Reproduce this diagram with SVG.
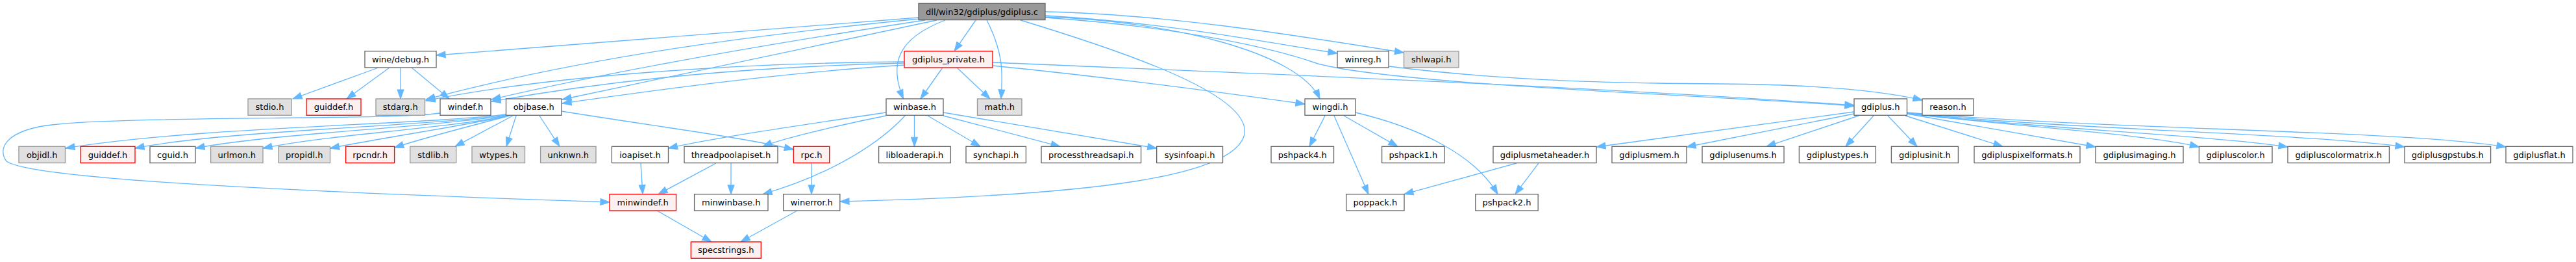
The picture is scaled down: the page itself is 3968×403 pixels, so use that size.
<svg xmlns="http://www.w3.org/2000/svg" width="3968" height="403" viewBox="0 0 3968 403">
<style>
.n rect{stroke-width:1.33}
.w rect{fill:#ffffff;stroke:#666666}
.g rect{fill:#e0e0e0;stroke:#999999}
.r rect{fill:#fff0f0;stroke:#ff0000}
.root rect{fill:#999999;stroke:#666666}
.n text{font-family:"DejaVu Sans","Liberation Sans",sans-serif;font-size:13px;text-anchor:middle;fill:#000000}
#edges path{fill:none;stroke:#63b8ff;stroke-width:1.33;marker-end:url(#a)}
</style>
<defs>
<marker id="a" markerUnits="userSpaceOnUse" markerWidth="14" markerHeight="10" viewBox="0 0 13.3 9.4" refX="13.3" refY="4.7" orient="auto" style="overflow:visible">
<path d="M0,0 L13.3,4.7 L0,9.4 z" fill="#63b8ff" stroke="#63b8ff" stroke-width="1"/>
</marker>
</defs>
<rect x="0" y="0" width="3968" height="403" fill="#ffffff"/>
<g id="edges">
<path d="M1415,27 L672,85"/>
<path d="M1416,29 C1150,55 900,88 656,153"/>
<path d="M1425,31 C1200,65 950,108 757,153"/>
<path d="M1443,31 C1250,72 1000,125 866,153"/>
<path d="M1393,95 C1150,97 850,115 656,155"/>
<path d="M1393,97 C1150,103 950,122 757,156"/>
<path d="M1393,100 C1200,112 1000,140 866,159"/>
<path d="M583,104 L451,152"/>
<path d="M600,104 L534,152"/>
<path d="M617,104 L617,152"/>
<path d="M634,104 L692,152"/>
<path d="M1503,31 L1470,78.7"/>
<path d="M1456,31 C1380,60 1370,100 1391.5,152"/>
<path d="M1520,31 C1545,80 1545,110 1542,152"/>
<path d="M1452,104 L1418,152"/>
<path d="M1474,104 L1525,152"/>
<path d="M1529,96 C1900,112 2400,130 2856,162"/>
<path d="M1529,101 C1700,118 1850,138 2010,160"/>
<path d="M1610,18 C1800,22 2000,55 2162.5,81"/>
<path d="M1610,24 C1800,35 1950,65 2060,82"/>
<path d="M1610,26 C1800,32 2000,80 2033,152"/>
<path d="M1610,27 C1800,40 1950,70 2030,98 C2150,130 2600,145 2856,163"/>
<path d="M2139,102 C2300,122 2450,128 2650,129 C2800,130 2900,140 2961,154"/>
<path d="M1572,31 C1750,85 1935,150 1916,210 C1895,270 1700,300 1294,310"/>
<path d="M678,174 C600,185 200,178 80,192 C10,200 -5,228 10,248 C40,270 300,290 939,311"/>
<path d="M779,176 C650,192 300,195 101,228"/>
<path d="M779,177 C650,195 350,200 208,228"/>
<path d="M779,178 C650,197 420,205 301,228"/>
<path d="M779,179 C680,198 500,208 405,228"/>
<path d="M780,179 C700,196 600,210 508.5,228"/>
<path d="M785,178 C720,195 660,210 607.6,227"/>
<path d="M790,178 L701,225.3"/>
<path d="M795,178 L780,225.3"/>
<path d="M831,178 L862,225.3"/>
<path d="M865,171 C1000,193 1150,212 1222.3,230"/>
<path d="M1365,173 C1250,190 1100,212 1029.5,228"/>
<path d="M1365,178 C1280,195 1200,215 1175,225.3"/>
<path d="M1394,178 C1360,215 1290,265 1175,298.7"/>
<path d="M1408.5,178 L1408.5,225.3"/>
<path d="M1429,178 L1510,225.3"/>
<path d="M1453,178 L1633,225.3"/>
<path d="M1453,173 L1781.7,228"/>
<path d="M987,251 L990,298.7"/>
<path d="M1103,251 L1014,298.7"/>
<path d="M1126,251 L1126,298.7"/>
<path d="M1250,251 L1250,298.7"/>
<path d="M1012,324 L1096,372"/>
<path d="M1228,324 L1141,372"/>
<path d="M2041,178 L2017,225.3"/>
<path d="M2055,178 L2108,298.7"/>
<path d="M2070,178 L2153,225.3"/>
<path d="M2088,173 C2180,195 2270,235 2307,298.7"/>
<path d="M2336,251 L2163,298.7"/>
<path d="M2370,251 L2334,298.7"/>
<path d="M2856,172 L2459,226"/>
<path d="M2856,175 L2598,226"/>
<path d="M2863,178 L2721,225.3"/>
<path d="M2886,178 L2843,225.3"/>
<path d="M2908,178 L2953,225.3"/>
<path d="M2935,178 L3085,225.3"/>
<path d="M2937.5,175 L3228,226"/>
<path d="M2937.5,174 C3100,195 3300,205 3387.4,226"/>
<path d="M2937.5,175 C3150,198 3400,208 3524,226"/>
<path d="M2937.5,174 C3200,200 3550,205 3704,226"/>
<path d="M2937.5,173 C3250,200 3700,200 3860,226"/>
</g>
<g id="n_gdiplus_c" class="n root"><rect x="1415" y="5.3" width="195" height="25.3"/><text x="1512.5" y="22.5">dll/win32/gdiplus/gdiplus.c</text></g>
<g id="n_wine_debug_h" class="n w"><rect x="562" y="78.7" width="110" height="25.3"/><text x="617" y="95.8">wine/debug.h</text></g>
<g id="n_gdiplus_private_h" class="n r"><rect x="1393" y="78.7" width="136" height="25.3"/><text x="1461" y="95.8">gdiplus_private.h</text></g>
<g id="n_winreg_h" class="n w"><rect x="2060" y="78.7" width="79" height="25.3"/><text x="2099.5" y="95.8">winreg.h</text></g>
<g id="n_shlwapi_h" class="n g"><rect x="2162.5" y="78.7" width="84.5" height="25.3"/><text x="2204.75" y="95.8">shlwapi.h</text></g>
<g id="n_stdio_h" class="n g"><rect x="382" y="152" width="67" height="25.3"/><text x="415.5" y="169.2">stdio.h</text></g>
<g id="n_guiddef_h_1" class="n r"><rect x="472" y="152" width="84" height="25.3"/><text x="514" y="169.2">guiddef.h</text></g>
<g id="n_stdarg_h" class="n g"><rect x="579" y="152" width="75.5" height="25.3"/><text x="616.75" y="169.2">stdarg.h</text></g>
<g id="n_windef_h" class="n w"><rect x="678" y="152" width="78" height="25.3"/><text x="717" y="169.2">windef.h</text></g>
<g id="n_objbase_h" class="n w"><rect x="779.5" y="152" width="85.5" height="25.3"/><text x="822.25" y="169.2">objbase.h</text></g>
<g id="n_winbase_h" class="n w"><rect x="1365" y="152" width="88" height="25.3"/><text x="1409" y="169.2">winbase.h</text></g>
<g id="n_math_h" class="n g"><rect x="1505.5" y="152" width="68.5" height="25.3"/><text x="1539.75" y="169.2">math.h</text></g>
<g id="n_wingdi_h" class="n w"><rect x="2010" y="152" width="78" height="25.3"/><text x="2049" y="169.2">wingdi.h</text></g>
<g id="n_gdiplus_h" class="n w"><rect x="2856" y="152" width="81.5" height="25.3"/><text x="2896.75" y="169.2">gdiplus.h</text></g>
<g id="n_reason_h" class="n w"><rect x="2961" y="152" width="79" height="25.3"/><text x="3000.5" y="169.2">reason.h</text></g>
<g id="n_objidl_h" class="n g"><rect x="29" y="225.3" width="71.5" height="25.3"/><text x="64.75" y="242.5">objidl.h</text></g>
<g id="n_guiddef_h_2" class="n r"><rect x="124" y="225.3" width="84" height="25.3"/><text x="166" y="242.5">guiddef.h</text></g>
<g id="n_cguid_h" class="n w"><rect x="231" y="225.3" width="70" height="25.3"/><text x="266" y="242.5">cguid.h</text></g>
<g id="n_urlmon_h" class="n g"><rect x="324.6" y="225.3" width="80.4" height="25.3"/><text x="364.8" y="242.5">urlmon.h</text></g>
<g id="n_propidl_h" class="n g"><rect x="429" y="225.3" width="79.5" height="25.3"/><text x="468.75" y="242.5">propidl.h</text></g>
<g id="n_rpcndr_h" class="n r"><rect x="532.6" y="225.3" width="75" height="25.3"/><text x="570.1" y="242.5">rpcndr.h</text></g>
<g id="n_stdlib_h" class="n g"><rect x="631.7" y="225.3" width="71" height="25.3"/><text x="667.2" y="242.5">stdlib.h</text></g>
<g id="n_wtypes_h" class="n g"><rect x="727" y="225.3" width="81.5" height="25.3"/><text x="767.75" y="242.5">wtypes.h</text></g>
<g id="n_unknwn_h" class="n g"><rect x="832.6" y="225.3" width="85.4" height="25.3"/><text x="875.3" y="242.5">unknwn.h</text></g>
<g id="n_ioapiset_h" class="n w"><rect x="942.4" y="225.3" width="87.1" height="25.3"/><text x="985.95" y="242.5">ioapiset.h</text></g>
<g id="n_threadpoolapiset_h" class="n w"><rect x="1054" y="225.3" width="144" height="25.3"/><text x="1126" y="242.5">threadpoolapiset.h</text></g>
<g id="n_rpc_h" class="n r"><rect x="1222.3" y="225.3" width="55.4" height="25.3"/><text x="1250" y="242.5">rpc.h</text></g>
<g id="n_libloaderapi_h" class="n w"><rect x="1353.6" y="225.3" width="110.7" height="25.3"/><text x="1408.95" y="242.5">libloaderapi.h</text></g>
<g id="n_synchapi_h" class="n w"><rect x="1488" y="225.3" width="92.4" height="25.3"/><text x="1534.2" y="242.5">synchapi.h</text></g>
<g id="n_processthreadsapi_h" class="n w"><rect x="1604" y="225.3" width="153.6" height="25.3"/><text x="1680.8" y="242.5">processthreadsapi.h</text></g>
<g id="n_sysinfoapi_h" class="n w"><rect x="1781.7" y="225.3" width="101.8" height="25.3"/><text x="1832.6" y="242.5">sysinfoapi.h</text></g>
<g id="n_pshpack4_h" class="n w"><rect x="1958" y="225.3" width="96.5" height="25.3"/><text x="2006.25" y="242.5">pshpack4.h</text></g>
<g id="n_pshpack1_h" class="n w"><rect x="2128.6" y="225.3" width="96.4" height="25.3"/><text x="2176.8" y="242.5">pshpack1.h</text></g>
<g id="n_gdiplusmetaheader_h" class="n w"><rect x="2300" y="225.3" width="159" height="25.3"/><text x="2379.5" y="242.5">gdiplusmetaheader.h</text></g>
<g id="n_gdiplusmem_h" class="n w"><rect x="2483" y="225.3" width="115" height="25.3"/><text x="2540.5" y="242.5">gdiplusmem.h</text></g>
<g id="n_gdiplusenums_h" class="n w"><rect x="2622" y="225.3" width="126" height="25.3"/><text x="2685" y="242.5">gdiplusenums.h</text></g>
<g id="n_gdiplustypes_h" class="n w"><rect x="2771.4" y="225.3" width="118" height="25.3"/><text x="2830.4" y="242.5">gdiplustypes.h</text></g>
<g id="n_gdiplusinit_h" class="n w"><rect x="2913.4" y="225.3" width="103" height="25.3"/><text x="2964.9" y="242.5">gdiplusinit.h</text></g>
<g id="n_gdipluspixelformats_h" class="n w"><rect x="3041" y="225.3" width="163" height="25.3"/><text x="3122.5" y="242.5">gdipluspixelformats.h</text></g>
<g id="n_gdiplusimaging_h" class="n w"><rect x="3228" y="225.3" width="135" height="25.3"/><text x="3295.5" y="242.5">gdiplusimaging.h</text></g>
<g id="n_gdipluscolor_h" class="n w"><rect x="3387.4" y="225.3" width="112.6" height="25.3"/><text x="3443.7" y="242.5">gdipluscolor.h</text></g>
<g id="n_gdipluscolormatrix_h" class="n w"><rect x="3524" y="225.3" width="156.4" height="25.3"/><text x="3602.2" y="242.5">gdipluscolormatrix.h</text></g>
<g id="n_gdiplusgpstubs_h" class="n w"><rect x="3704" y="225.3" width="132.6" height="25.3"/><text x="3770.3" y="242.5">gdiplusgpstubs.h</text></g>
<g id="n_gdiplusflat_h" class="n w"><rect x="3860" y="225.3" width="103" height="25.3"/><text x="3911.5" y="242.5">gdiplusflat.h</text></g>
<g id="n_minwindef_h" class="n r"><rect x="939" y="298.7" width="102.5" height="25.3"/><text x="990.25" y="315.8">minwindef.h</text></g>
<g id="n_minwinbase_h" class="n w"><rect x="1069.6" y="298.7" width="113.4" height="25.3"/><text x="1126.3" y="315.8">minwinbase.h</text></g>
<g id="n_winerror_h" class="n w"><rect x="1206.7" y="298.7" width="87.1" height="25.3"/><text x="1250.25" y="315.8">winerror.h</text></g>
<g id="n_poppack_h" class="n w"><rect x="2073.7" y="298.7" width="89.3" height="25.3"/><text x="2118.35" y="315.8">poppack.h</text></g>
<g id="n_pshpack2_h" class="n w"><rect x="2272.8" y="298.7" width="96.4" height="25.3"/><text x="2321" y="315.8">pshpack2.h</text></g>
<g id="n_specstrings_h" class="n r"><rect x="1064.3" y="372" width="108" height="25.3"/><text x="1118.3" y="389.2">specstrings.h</text></g>
</svg>
